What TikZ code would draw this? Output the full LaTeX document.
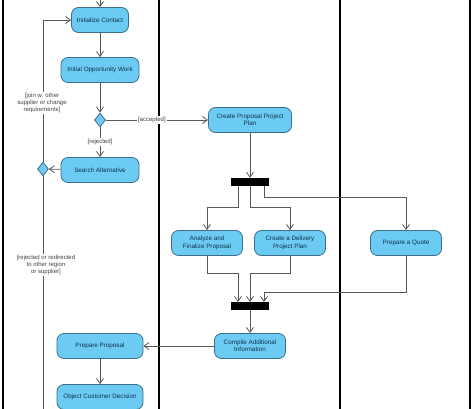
\documentclass[tikz,border=0pt]{standalone}
\usepackage{fontspec}
\setmainfont{Liberation Sans}
\usetikzlibrary{arrows.meta,shapes.geometric}
\definecolor{actfill}{HTML}{6CCBF2}
\definecolor{actdraw}{HTML}{3A6E8A}
\definecolor{acttext}{HTML}{10304A}
\begin{document}
\begin{tikzpicture}[x=1pt,y=-1pt,
  act/.style={draw=actdraw,line width=0.8pt,fill=actfill,rounded corners=7pt,minimum height=25pt,align=center,font=\fontsize{6.3}{7.4}\selectfont,text=acttext,inner sep=1pt},
  bar/.style={fill=black,minimum height=8pt,minimum width=38pt,inner sep=0pt},
  dec/.style={diamond,draw=actdraw,fill=actfill,line width=0.8pt,minimum width=11pt,minimum height=14pt,inner sep=0pt},
  flow/.style={draw=black!65,line width=0.8pt,-{Straight Barb[length=5pt,width=7pt]}},
  lbl/.style={font=\fontsize{6}{7}\selectfont,text=black!75,align=center,fill=white,inner sep=1pt},
  lane/.style={draw=black,line width=1.1pt}]
\useasboundingbox (0,0) rectangle (474,409);
\begin{scope}
\clip (0,0) rectangle (474,409);
\draw[lane] (3,-5) -- (3,420);
\draw[lane] (159,-5) -- (159,420);
\draw[lane] (340,-5) -- (340,420);
\draw[lane] (470,-5) -- (470,420);

\coordinate (top) at (100,-2);
\node[act,minimum width=57pt] (ic) at (100,20) {Initialize Contact};
\node[act,minimum width=78pt] (iow) at (100,70) {Initial Opportunity Work};
\node[dec] (d1) at (100,120) {};
\node[act,minimum width=78pt] (sa) at (100,170) {Search Alternative};
\node[dec] (d2) at (43,169) {};
\coordinate (bot) at (43,420);
\node[act,minimum width=83pt] (cpp) at (250,120) {Create Proposal Project\\Plan};
\node[bar] (f1) at (250,182) {};
\node[act,minimum width=71pt] (an) at (207,243) {Analyze and\\Finalize Proposal};
\node[act,minimum width=71pt] (cd) at (290,243) {Create a Delivery\\Project Plan};
\node[act,minimum width=71pt] (pq) at (406,243) {Prepare a Quote};
\node[bar] (f2) at (250,306) {};
\node[act,minimum width=71pt] (ca) at (250,346) {Compile Additional\\Information};
\node[act,minimum width=86pt] (pp) at (100,346) {Prepare Proposal};
\node[act,minimum width=86pt] (oc) at (100,397) {Object Customer Decision};

\draw[flow] (top) -- (ic);
\draw[flow] (ic) -- (iow);
\draw[flow] (iow) -- (d1);
\draw[flow] (d1) -- node[lbl]{[rejected]} (sa);
\draw[flow] (d1) -- node[lbl,pos=0.45]{[accepted]} (cpp);
\draw[flow] (sa) -- (d2);
\draw[flow] (d2) -- (43,20) -- (ic);
\draw[draw=black!65,line width=0.8pt] (d2) -- (bot);
\node[lbl] at (42,103) {[join w. other\\supplier or change\\requirements]};
\node[lbl] at (46,265) {[rejected or redirected\\to other region\\or supplier]};
\draw[flow] (cpp) -- (f1);
\draw[flow] (238,186) -- (238,207) -- (207,207) -- (an);
\draw[flow] (250,186) -- (250,207) -- (290,207) -- (cd);
\draw[flow] (264,186) -- (264,197) -- (406,197) -- (pq);
\draw[flow] (an) -- (207,273) -- (238,273) -- (238,302);
\draw[flow] (cd) -- (290,273) -- (250,273) -- (250,302);
\draw[flow] (pq) -- (406,292) -- (264,292) -- (264,302);
\draw[flow] (f2) -- (ca);
\draw[flow] (ca) -- (pp);
\draw[flow] (pp) -- (oc);
\end{scope}
\end{tikzpicture}
\end{document}
